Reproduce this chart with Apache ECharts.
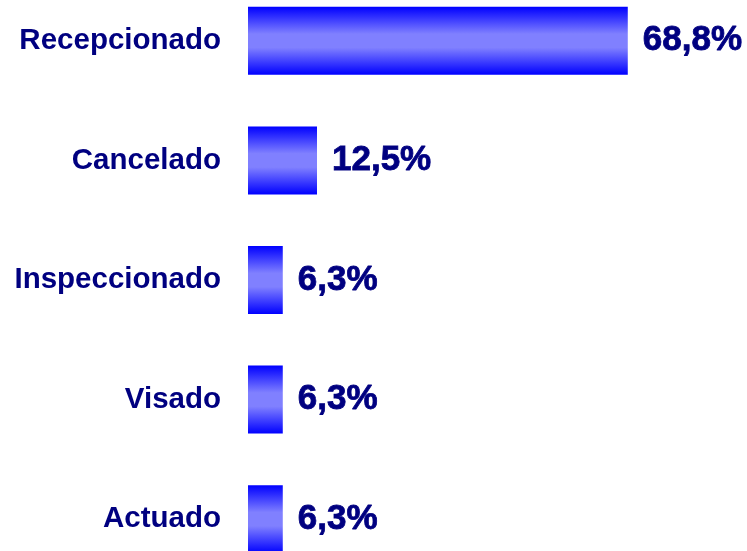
<!DOCTYPE html>
<html>
<head>
<meta charset="utf-8">
<script src="https://cdn.jsdelivr.net/npm/echarts@6/dist/echarts.min.js"></script>
<style>
html, body { margin: 0; padding: 0; background: #fff; }
#chart { width: 747px; height: 551px; }
</style>
</head>
<body>
<div id="chart"></div>
<script>
const categories = ["Recepcionado", "Cancelado", "Inspeccionado", "Visado", "Actuado"];
const percentValues = [68.8, 12.5, 6.3, 6.3, 6.3];

const navy = "#000080";
const fontFamily = "'Liberation Sans', Arial, sans-serif";

const chart = echarts.init(document.getElementById("chart"));

chart.setOption({
	animation: false,
	backgroundColor: "#ffffff",
	grid: {
		left: 248,
		top: -19,
		width: 552,
		height: 598,
		outerBoundsMode: "none"
	},
	xAxis: {
		type: "value",
		min: 0,
		max: 100,
		show: false
	},
	yAxis: {
		type: "category",
		inverse: true,
		data: categories,
		axisLine: { show: false },
		axisTick: { show: false },
		splitLine: { show: false },
		axisLabel: {
			color: navy,
			fontSize: 29.5,
			fontWeight: "bold",
			fontFamily: fontFamily,
			margin: 27
		}
	},
	series: [
		{
			type: "bar",
			data: percentValues,
			barWidth: 68,
			itemStyle: {
				color: {
					type: "linear",
					x: 0, y: 0, x2: 0, y2: 1,
					colorStops: [
						{ offset: 0, color: "#0000ff" },
						{ offset: 0.4, color: "#8080ff" },
						{ offset: 0.6, color: "#8080ff" },
						{ offset: 1, color: "#0000ff" }
					]
				}
			},
			label: {
				show: true,
				position: "right",
				distance: 15,
				color: navy,
				fontSize: 35,
				fontWeight: "bold",
				fontFamily: fontFamily,
				textBorderColor: navy,
				textBorderWidth: 0.8,
				formatter(p) {
					return p.value.toFixed(1).replace(".", ",") + "%";
				}
			}
		}
	]
});
</script>
</body>
</html>
